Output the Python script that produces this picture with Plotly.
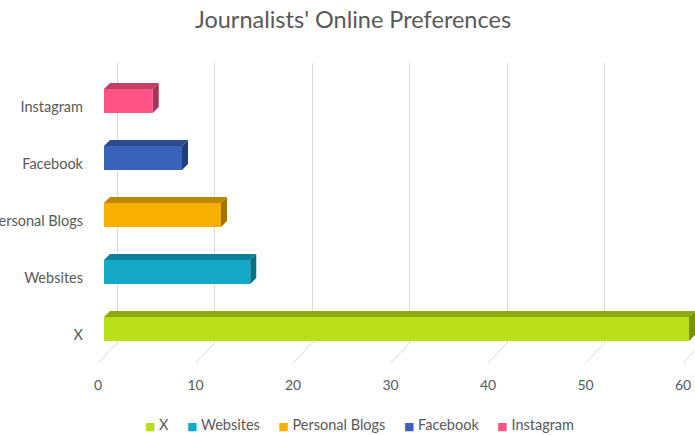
import plotly.graph_objects as go

# ---------------- data ----------------
categories = ["X", "Websites", "Personal Blogs", "Facebook", "Instagram"]
values = [60, 15, 12, 8, 5]
front_colors = ["#B9DF16", "#14A9C9", "#F7B000", "#3A63BE", "#FF5385"]
top_colors = ["#8EAB0F", "#0E8199", "#BD8700", "#2C4B90", "#C23F66"]
side_colors = ["#7A930D", "#0C6F84", "#A27300", "#243E78", "#A53657"]
x_ticks = [0, 10, 20, 30, 40, 50, 60]
title_text = "Journalists' Online Preferences"

# ---------------- geometry ----------------
W, H = 695, 435
L, R, T, B = 98, 0, 63, 72
PW = W - L - R
PH = H - T - B
U = 9.75          # px per value unit
ROW = 57          # px per category
LABEL_X0 = 98     # front plane zero (tick labels)
BAR_X0 = 104      # bar front face zero
GRID_X0 = 117     # back wall zero (gridlines)
GRID_BOTTOM = 343
PLOT_BOTTOM = H - B
FIRST_CENTER = 329
LABEL_SHIFT = 6
BAR_PX = 24
DEPTH_X = 6
DEPTH_Y = 6
FONT = "Lato, 'Open Sans', sans-serif"
GREY = "#595959"
GRIDC = "#D9D9D9"


def xrange_for(px0):
    # all axes share the full plot width; the zero point is moved via range
    return [(L - px0) / U, (W - px0) / U]


ydom = [(PLOT_BOTTOM - GRID_BOTTOM) / PH, 1]
r0 = -(GRID_BOTTOM - FIRST_CENTER) / ROW
r1 = r0 + (GRID_BOTTOM - T) / ROW
shift = LABEL_SHIFT / ROW

fig = go.Figure()

half = BAR_PX / ROW / 2
dx = DEPTH_X / U
dy = DEPTH_Y / ROW

for i, (cat, v) in enumerate(zip(categories, values)):
    fig.add_trace(go.Bar(
        y=[i], x=[v], orientation="h", width=BAR_PX / ROW,
        marker=dict(color=front_colors[i], line=dict(width=0)),
        name=cat, showlegend=False, xaxis="x2", yaxis="y",
    ))

for i, (cat, v) in enumerate(zip(categories, values)):
    # top face
    fig.add_trace(go.Scatter(
        x=[0, v, v + dx, dx, 0],
        y=[i + half, i + half, i + half + dy, i + half + dy, i + half],
        mode="lines", fill="toself", fillcolor=top_colors[i],
        line=dict(width=0, color=top_colors[i]), hoverinfo="skip",
        showlegend=False, xaxis="x2", yaxis="y", cliponaxis=False,
    ))
    # side face
    fig.add_trace(go.Scatter(
        x=[v, v + dx, v + dx, v, v],
        y=[i - half, i - half + dy, i + half + dy, i + half, i - half],
        mode="lines", fill="toself", fillcolor=side_colors[i],
        line=dict(width=0, color=side_colors[i]), hoverinfo="skip",
        showlegend=False, xaxis="x2", yaxis="y", cliponaxis=False,
    ))

# empty traces to establish overlay subplots
fig.add_trace(go.Scatter(x=[], y=[], xaxis="x", yaxis="y", showlegend=False, hoverinfo="skip"))
fig.add_trace(go.Scatter(x=[], y=[], xaxis="x3", yaxis="y", showlegend=False, hoverinfo="skip"))
fig.add_trace(go.Scatter(x=[], y=[], xaxis="x", yaxis="y2", showlegend=False, hoverinfo="skip"))

# slanted floor tick lines
shapes = []
for t in x_ticks:
    shapes.append(dict(
        type="line", xref="x", yref="paper",
        x0=t + (GRID_X0 - LABEL_X0) / U, y0=ydom[0], x1=t, y1=0,
        line=dict(color=GRIDC, width=1), layer="below",
    ))

# legend row (text based, keeps Excel-like compact spacing)
legend_parts = []
for cat, col in zip(categories, front_colors):
    legend_parts.append(
        f"<span style='color:{col};font-size:11px;font-family:DejaVu Sans'>■</span>&nbsp;{cat}"
    )
legend_text = ("&nbsp;" * 5).join(legend_parts)

fig.update_layout(
    width=W, height=H,
    margin=dict(l=L, r=R, t=T, b=B, pad=0),
    paper_bgcolor="white", plot_bgcolor="white",
    barmode="overlay",
    showlegend=False,
    font=dict(family=FONT, color=GREY, size=14),
    title=dict(text=title_text, x=353 / W, xref="container", xanchor="center",
               y=1 - 20 / H, yref="container", yanchor="middle",
               font=dict(family=FONT, size=23.5, color=GREY)),
    xaxis=dict(range=xrange_for(LABEL_X0), anchor="free", position=0,
               tickvals=x_ticks, showgrid=False, zeroline=False, showline=False,
               ticks="", ticklabelstandoff=12,
               tickfont=dict(family=FONT, size=14, color=GREY)),
    xaxis2=dict(range=xrange_for(BAR_X0), anchor="y", overlaying="x",
                showgrid=False, zeroline=False, showline=False,
                showticklabels=False, ticks=""),
    xaxis3=dict(range=xrange_for(GRID_X0), anchor="y", overlaying="x",
                tickvals=x_ticks, showgrid=True, gridcolor=GRIDC, gridwidth=1,
                zeroline=False, showline=False, showticklabels=False, ticks=""),
    yaxis=dict(domain=ydom, range=[r0, r1], anchor="x2",
               showgrid=False, zeroline=False, showline=False,
               showticklabels=False, ticks=""),
    yaxis2=dict(domain=ydom, range=[r0 + shift, r1 + shift], anchor="x",
                overlaying="y", tickvals=list(range(len(categories))),
                ticktext=categories, showgrid=False, zeroline=False,
                showline=False, ticks="", ticklabelstandoff=14, automargin=False,
                tickfont=dict(family=FONT, size=14.5, color=GREY)),
    annotations=[dict(
        text=legend_text, xref="paper", yref="paper",
        x=(359 - L) / PW, xanchor="center",
        y=(PLOT_BOTTOM - 424) / PH, yanchor="middle",
        showarrow=False, font=dict(family=FONT, size=14.5, color=GREY),
    )],
    shapes=shapes,
)

fig.write_html("out.html")
